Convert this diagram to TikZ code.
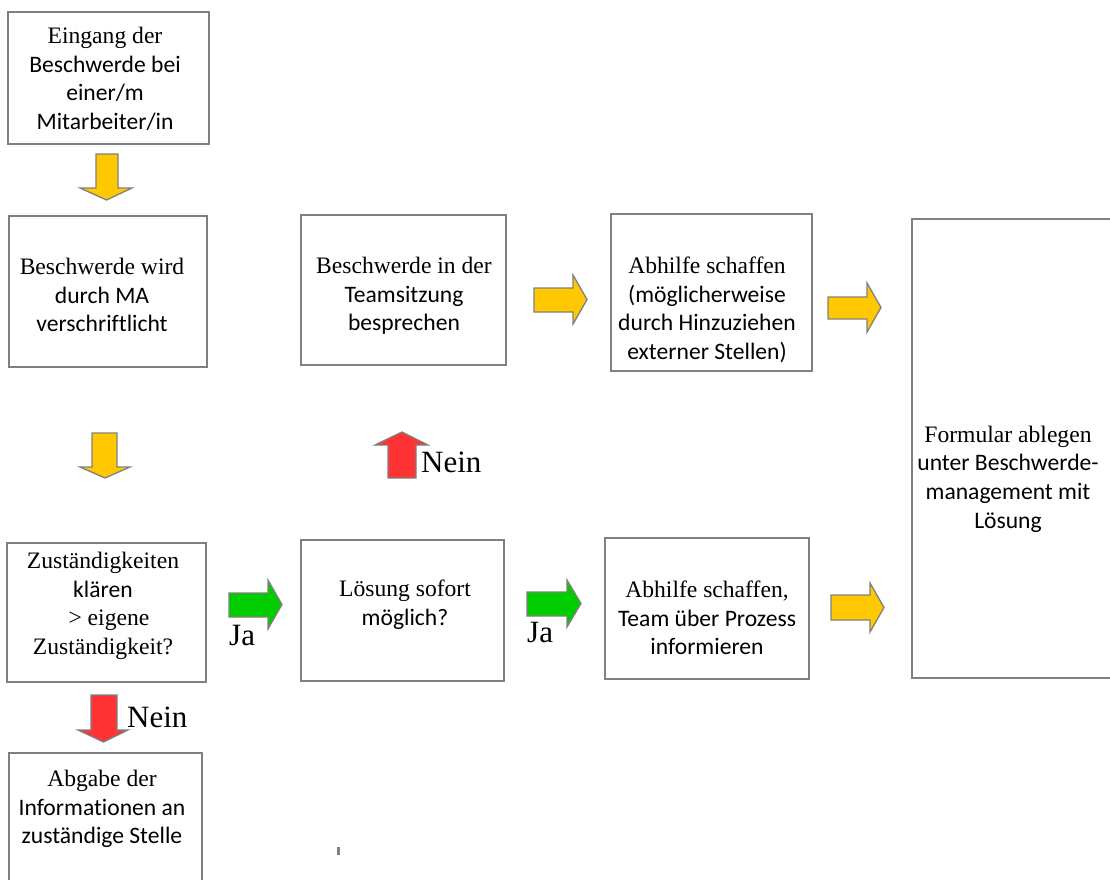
\documentclass[tikz,border=0pt]{standalone}
\usepackage{fontspec}
\setmainfont{Liberation Serif}
\newfontfamily\tnr{Liberation Serif}
\newfontfamily\calib[Ligatures=NoCommon]{Carlito}
\definecolor{bordergray}{RGB}{128,128,128}
\definecolor{ayellow}{RGB}{255,200,0}
\definecolor{agreen}{RGB}{0,204,0}
\definecolor{ared}{RGB}{255,51,51}
\begin{document}
\begin{tikzpicture}[x=1bp,y=-1bp,
  box/.style={draw=bordergray, line width=1.8bp, inner sep=0pt, fill=white},
  txt/.style={align=center, inner sep=0pt, font=\calib\fontsize{23.6bp}{28.6bp}\selectfont},
  lab/.style={inner sep=0pt, anchor=base west, font=\tnr\fontsize{31bp}{36bp}\selectfont},
  yarrow/.style={draw=bordergray, line width=1.3bp, fill=ayellow, line join=miter},
  garrow/.style={draw=bordergray, line width=1.3bp, fill=agreen, line join=miter},
  rarrow/.style={draw=bordergray, line width=1.3bp, fill=ared, line join=miter}]
\clip (0,0) rectangle (1110,880);
\fill[white] (0,0) rectangle (1110,880);

% boxes
\node[box, minimum width=201bp, minimum height=132bp] (b1) at (108.5,78) {};
\node[box, minimum width=198bp, minimum height=151bp] (b2) at (108,291.5) {};
\node[box, minimum width=199bp, minimum height=139bp] (b3) at (106.5,612.5) {};
\node[box, minimum width=205bp, minimum height=150bp] (b4) at (403.5,290) {};
\node[box, minimum width=203bp, minimum height=141bp] (b5) at (402.5,610.5) {};
\node[box, minimum width=201bp, minimum height=157bp] (b6) at (711.5,292.5) {};
\node[box, minimum width=204bp, minimum height=141bp] (b7) at (707,608.5) {};
\node[box, minimum width=230bp, minimum height=459bp] (b8) at (1027,448.5) {};
\node[box, minimum width=193bp, minimum height=200bp] (b9) at (105.5,853) {};

% texts
\node[txt] (t1) at (105,79) {{\tnr Eingang der}\\Beschwerde bei\\einer/m\\Mitarbeiter/in};
\node[txt] (t2) at (102,295) {{\tnr Beschwerde wird}\\durch MA\\verschriftlicht};
\node[txt] (t3) at (103,606) {{\tnr Zuständigkeiten}\\klären\\{\tnr\ \ > eigene}\\{\tnr Zuständigkeit?}};
\node[txt] (t4) at (404,296) {{\tnr Beschwerde in der}\\Teamsitzung\\besprechen};
\node[txt] (t5) at (405,605) {{\tnr Lösung sofort}\\möglich?};
\node[txt] (t6) at (707,310) {{\tnr Abhilfe schaffen}\\(möglicherweise\\durch Hinzuziehen\\externer Stellen)};
\node[txt] (t7) at (707,618) {{\tnr Abhilfe schaffen,}\\Team über Prozess\\informieren};
\node[txt] (t8) at (1008,479) {{\tnr Formular ablegen}\\unter Beschwerde-\\management mit\\Lösung};
\node[txt] (t9) at (102,809) {{\tnr Abgabe der}\\Informationen an\\zuständige Stelle};

% block arrows
% yellow down b1 -> b2
\draw[yarrow] (96,154) -- (118,154) -- (118,188) -- (132,188) -- (106.5,200) -- (80,188) -- (96,188) -- cycle;
% yellow down b2 -> b3
\draw[yarrow] (92,433) -- (117,433) -- (117,467) -- (130,467) -- (105,478) -- (80,467) -- (92,467) -- cycle;
% red down b3 -> b9
\draw[rarrow] (91,695) -- (117,695) -- (117,730) -- (128,730) -- (103.5,742) -- (78,730) -- (91,730) -- cycle;
% red up b5 -> b4
\draw[rarrow] (388,478) -- (416,478) -- (416,445) -- (428,445) -- (402,432) -- (375,445) -- (388,445) -- cycle;
% green right b3 -> b5
\draw[garrow] (229,593) -- (268,593) -- (268,580) -- (282,604.5) -- (268,629) -- (268,617) -- (229,617) -- cycle;
% green right b5 -> b7
\draw[garrow] (527,592) -- (567,592) -- (567,580) -- (581,603.5) -- (567,627) -- (567,616) -- (527,616) -- cycle;
% yellow right b4 -> b6
\draw[yarrow] (534,288) -- (573,288) -- (573,275) -- (587,299.5) -- (573,324) -- (573,312) -- (534,312) -- cycle;
% yellow right b6 -> b8
\draw[yarrow] (828,297) -- (867,297) -- (867,283) -- (881,307.5) -- (867,332) -- (867,319) -- (828,319) -- cycle;
% yellow right b7 -> b8
\draw[yarrow] (831,595) -- (870,595) -- (870,583) -- (884,607.5) -- (870,632) -- (870,620) -- (831,620) -- cycle;

% labels
\node[lab] (ja1) at (229,645) {Ja};
\node[lab] (ja2) at (527,642) {Ja};
\node[lab] (nein1) at (421,472) {Nein};
\node[lab] (nein2) at (127,727) {Nein};

% small tick
\fill[bordergray] (336.5,847) rectangle (340,855);
\end{tikzpicture}
\end{document}
